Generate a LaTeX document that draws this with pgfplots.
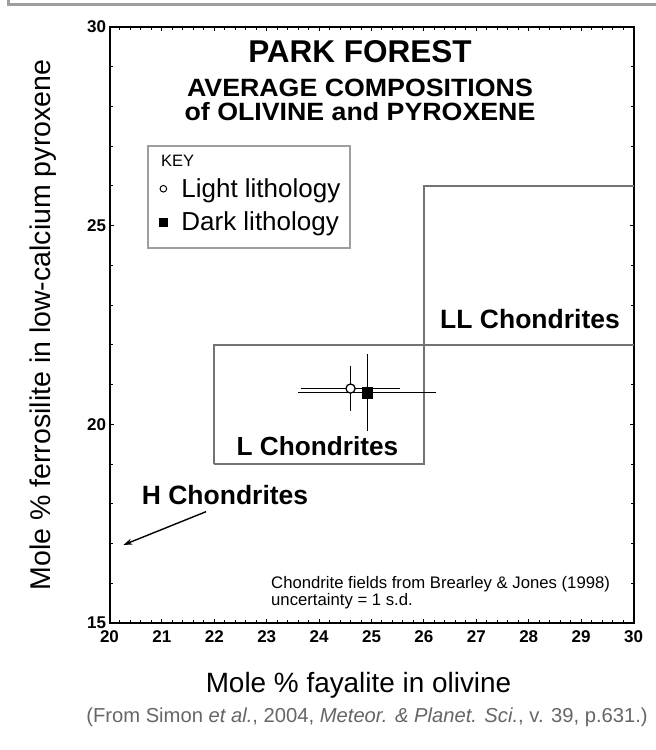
\documentclass[border=0pt]{standalone}
\usepackage{fontspec}
\setmainfont{Liberation Sans}
\usepackage{pgfplots}
\pgfplotsset{compat=1.18}
\usetikzlibrary{arrows.meta}
\definecolor{fieldgray}{gray}{0.45}
\definecolor{framegray}{gray}{0.62}
\definecolor{footgray}{gray}{0.4}
\newcommand{\fs}[1]{\fontsize{#1bp}{#1bp}\selectfont}
\begin{document}
\begin{tikzpicture}[x=1bp,y=1bp]
\path[use as bounding box] (0,0) rectangle (656,750);
\fill[white] (0,0) rectangle (656,750);
\draw[framegray, line width=3bp] (8.8,751) -- (8.8,745) -- (657,745);
\begin{axis}[at={(109.5bp,127bp)}, anchor=south west, scale only axis,
  width=524bp, height=596bp,
  xmin=20, xmax=30, ymin=15, ymax=30,
  xtick={20,21,...,30}, ytick={15,20,25,30},
  minor x tick num=4, minor y tick num=4,
  tick align=inside, major tick length=4bp, minor tick length=3bp,
  axis line style={line width=2bp},
  every tick/.style={black, line width=1bp},
  tick label style={font=\fs{17}\bfseries},
  /pgf/number format/assume math mode=true,
  xticklabel style={yshift=-4bp},
  clip=false,
  legend style={draw=none, fill=none, inner sep=0pt, font=\fs{26},
    at={(axis cs:20.948,26.19)}, anchor=north west,
    nodes={inner sep=0bp}, row sep=13bp,
    /tikz/every odd column/.append style={column sep=14bp}},
  legend cell align=left,
]
% chondrite fields
\addplot[forget plot, fieldgray, line width=2.2bp, line join=miter] coordinates {(22,19) (26,19) (26,26) (30,26)};
\addplot[forget plot, fieldgray, line width=2.2bp, line join=miter] coordinates {(22,19) (22,22) (30,22)};
% error bars, dark lithology
\addplot[forget plot, only marks, mark=none, black,
  error bars/.cd, x dir=both, x explicit, y dir=both, y explicit,
  error bar style={line width=1bp},
  error mark options={line width=1bp, mark size=2bp}]
  coordinates {(24.92,20.80) +- (1.28,0.92)};
% error bars, light lithology
\addplot[forget plot, only marks, mark=none, black,
  error bars/.cd, x dir=both, x explicit,
  error bar style={line width=0.7bp, double=white, double distance=1.3bp},
  error mark options={line width=0.8bp, mark size=2bp}]
  coordinates {(24.60,20.90) +- (0.90,0)};
\addplot[forget plot, only marks, mark=none, black,
  error bars/.cd, y dir=both, y explicit,
  error bar style={line width=1bp},
  error mark options={line width=1bp, mark size=2bp}]
  coordinates {(24.60,20.90) +- (0,0.52)};
% means
\addplot[forget plot, only marks, mark=*, mark size=4.6bp,
  mark options={fill=white, draw=black, line width=1.3bp}]
  coordinates {(24.60,20.90)};
\addplot[forget plot, only marks, mark=square*, mark size=5.3bp, black]
  coordinates {(24.92,20.80)};
% key
\addlegendimage{only marks, mark=*, mark size=3.3bp, mark options={fill=white, draw=black, line width=1bp}}
\addlegendentry{Light lithology}
\addlegendimage{only marks, mark=square*, mark size=4bp, black}
\addlegendentry{Dark lithology}
\end{axis}
% key box
\draw[framegray, line width=1.2bp] (148,604) rectangle (350,502);
\node[anchor=base west, inner sep=0pt, font=\fs{16.5}] at (161,583.3) {KEY};
% titles
\node[anchor=base, inner sep=0pt, font=\fs{31.5}\bfseries] at (360,687) {PARK FOREST};
\node[anchor=base, inner sep=0pt, xscale=1.07, font=\fs{25}\bfseries] at (360,653) {AVERAGE COMPOSITIONS};
\node[anchor=base, inner sep=0pt, xscale=1.07, font=\fs{25}\bfseries] at (360,629.5) {of OLIVINE and PYROXENE};
% field labels
\node[anchor=base, inner sep=0pt, font=\fs{26.5}\bfseries] at (530,421.5) {LL Chondrites};
\node[anchor=base, inner sep=0pt, font=\fs{26.2}\bfseries] at (317.5,294.5) {L Chondrites};
\node[anchor=base, inner sep=0pt, font=\fs{26.5}\bfseries] at (225,245) {H Chondrites};
\draw[black, line width=1.4bp, -{Stealth[length=9bp, width=6bp]}] (206,238.3) -- (123.3,205);
% note
\node[anchor=base west, inner sep=0pt, font=\fs{16.7}] at (271,161) {Chondrite fields from Brearley \& Jones (1998)};
\node[anchor=base west, inner sep=0pt, font=\fs{16.7}] at (271,144) {uncertainty = 1 s.d.};
% axis labels
\node[anchor=base, inner sep=0pt, font=\fs{27.9}] at (358.5,57) {Mole \% fayalite in olivine};
\node[anchor=base, rotate=90, inner sep=0pt, font=\fs{28.5}] at (50,425) {Mole \% ferrosilite in low-calcium pyroxene};
% source
\node[anchor=base, inner sep=0pt, font=\fs{20.2}, text=footgray] at (367,27) {(From Simon \textit{et al.}, 2004, \textit{Meteor. \& Planet. Sci.}, v. 39, p.631.)};
\end{tikzpicture}
\end{document}
